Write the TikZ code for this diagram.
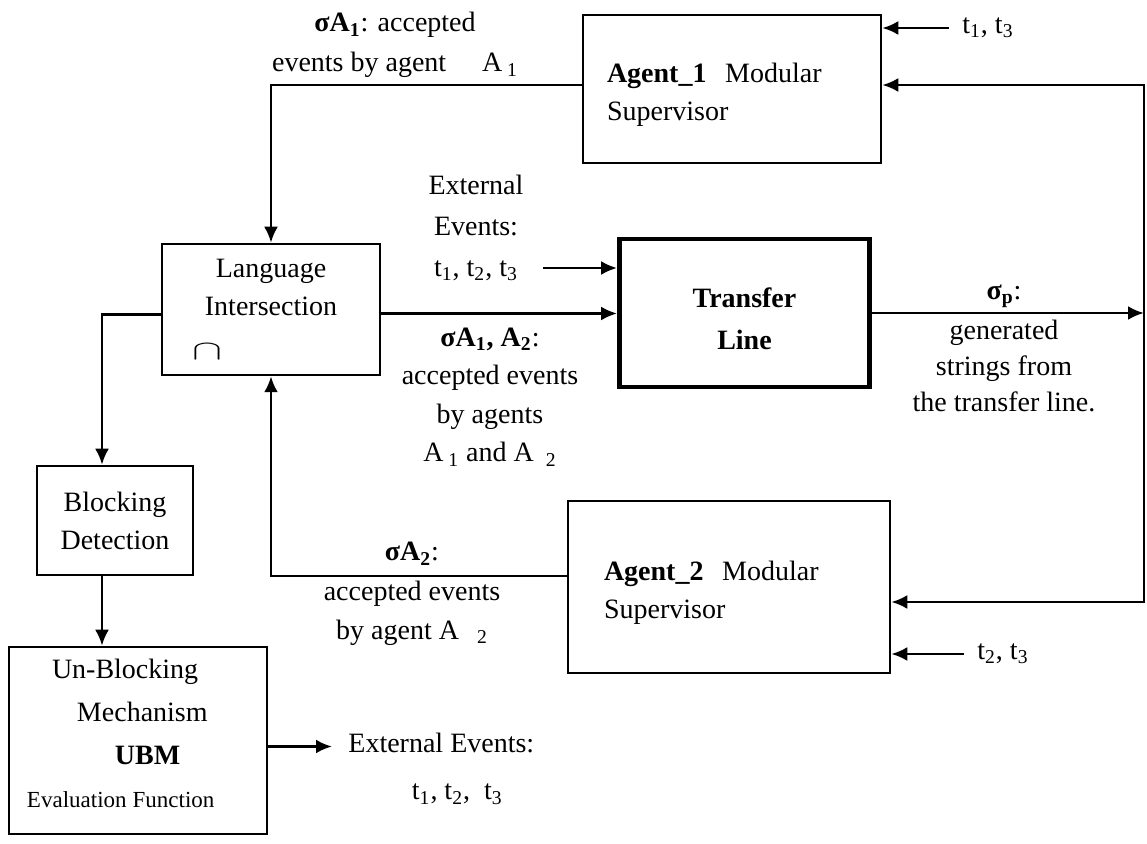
\documentclass[tikz,border=0pt]{standalone}
\usepackage{fontspec}
\setmainfont{Liberation Serif}
\usetikzlibrary{arrows.meta}
\tikzset{
    >={Latex[length=8pt,width=7pt]},
    module/.style={draw=black, line width=1.25pt, rectangle, inner sep=0pt},
    plant/.style={draw=black, line width=2.4pt, rectangle, inner sep=0pt,
        font=\fontsize{14pt}{21pt}\selectfont\bfseries, align=center},
    tag/.style={align=center, inner sep=0pt},
    input/.style={anchor=west, inner xsep=6.5pt, inner ysep=0pt},
    signal/.style={draw=black, line width=1.4pt, ->},
}

\begin{document}
\begin{tikzpicture}[x=0.5pt, y=-0.5pt, font=\fontsize{14pt}{19pt}\selectfont]

\useasboundingbox (0,0) rectangle (1147,844);

% supervisors, plant and the blocking chain
		\node[module, minimum width=149pt, minimum height=74pt, text width=125pt, align=left, text height=15pt]
			(agent1) at (732,89) {\textbf{Agent\_1}\ \ Modular\\Supervisor};
		\node[module, minimum width=161pt, minimum height=86pt, text width=125pt, align=left, text height=15pt]
			(agent2) at (729,587) {\textbf{Agent\_2}\ \ Modular\\Supervisor};
		\node[plant, minimum width=125pt, minimum height=74pt, text width=100pt, text height=15.5pt]
			(line) at (744.5,313) {Transfer\\Line};
		\node[module, minimum width=109pt, minimum height=65.5pt, text width=109pt, align=center]
			(inter) at (271,309.5) {Language\\Intersection\\[3pt]\makebox[109pt][l]{\hspace{15pt}{\fontsize{17pt}{19pt}\selectfont\scalebox{1.3}[0.8]{$\cap$}}}};
		\node[module, minimum width=78pt, minimum height=54.5pt, align=center]
			(block) at (115,520.5) {Blocking\\Detection};
		\node[module, minimum width=129pt, minimum height=93.5pt, text width=129pt, align=left,
			text depth=71.5pt, font=\fontsize{14pt}{21.5pt}\selectfont] (ubm) at (138,740.5)
			{\hspace*{21.5pt}Un-Blocking\\\hspace*{34pt}Mechanism\\\hspace*{53pt}\textbf{UBM}\\\hspace*{9pt}{\fontsize{11.5pt}{21.5pt}\selectfont Evaluation\hspace{3pt}Function}};

% event labels
		\node[tag, font=\fontsize{14pt}{20pt}\selectfont] (acc1) at (395,45)
			{\textbf{σA\textsubscript{1}}: accepted\\events by agent\hspace{18pt}A\,\textsubscript{1}};
		\node[tag, font=\fontsize{14pt}{20.5pt}\selectfont] (extev) at (476,228)
			{External\\Events:\\t\textsubscript{1}, t\textsubscript{2}, t\textsubscript{3}};
		\node[tag, font=\fontsize{14pt}{19.3pt}\selectfont] (acc12) at (490,397)
			{\textbf{σA\textsubscript{1}, A\textsubscript{2}}:\\accepted events\\by agents\\A\,\textsubscript{1} and A\hspace{6pt}\textsubscript{2}};
		\node[tag, font=\fontsize{14pt}{19.7pt}\selectfont] (acc2) at (412,594)
			{\textbf{σA\textsubscript{2}}:\\accepted events\\by agent A\hspace{9pt}\textsubscript{2}};
		\node[tag, font=\fontsize{14pt}{18pt}\selectfont] (gen) at (1004,348)
			{\textbf{σ\textsubscript{p}}:\\[2pt]generated\\strings from\\the transfer line.};
		\node[input] (t13) at (949,28) {t\textsubscript{1}, t\textsubscript{3}};
		\node[input] (t23) at (964,654) {t\textsubscript{2}, t\textsubscript{3}};
		\node[tag, anchor=west, inner xsep=8pt, font=\fontsize{14pt}{23.5pt}\selectfont] (ubmout) at (332,769)
			{External Events:\\\hspace*{16pt}t\textsubscript{1}, t\textsubscript{2},\ \ t\textsubscript{3}};

% connectors
		\coordinate (jn) at (1144,313);
		\coordinate (extin) at (543,268);
		\coordinate (drop) at (102,315);
		\draw[signal] (line.east) -- (jn);
		\draw[signal] (jn) |- ([yshift=2pt]agent1.east);
		\draw[signal] (jn) |- ([yshift=-7.5pt]agent2.east);
		\draw[signal] (t13.west) -- (t13.west -| agent1.east);
		\draw[signal] (t23.west) -- (t23.west -| agent2.east);
		\draw[signal] ([yshift=2pt]agent1.west) -| (inter.north);
		\draw[signal] ([yshift=5.5pt]agent2.west) -| (inter.south);
		\draw[signal] (extin) -- (extin -| line.west);
		\draw[signal] ([yshift=-2pt]inter.east) -- ([yshift=-2pt]inter.east -| line.west);
		\draw[signal] ([yshift=-2.5pt]inter.west) -| (drop |- block.north);
		\draw[signal] (drop |- block.south) -- (drop |- ubm.north);
		\draw[signal] ([yshift=-3pt]ubm.east) -- ([yshift=-3pt]ubm.east -| ubmout.west);
		%\draw[signal] (ubm.east) -- (ubmout.west);

\end{tikzpicture}
\end{document}
